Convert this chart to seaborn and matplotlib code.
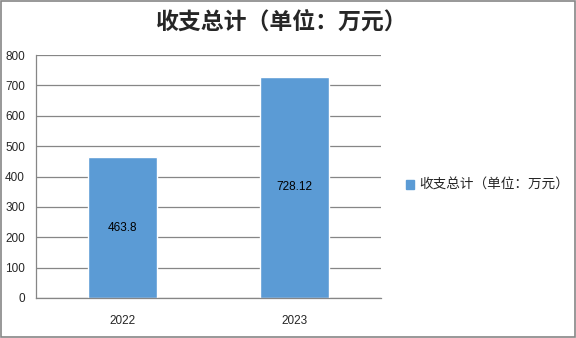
import matplotlib
matplotlib.use("Agg")
import matplotlib.pyplot as plt
import seaborn as sns
import pandas as pd
from matplotlib.patches import Patch

years = ["2022", "2023"]
values = [463.8, 728.12]
labels = ["463.8", "728.12"]
series_name = "收支总计（单位：万元）"
title = "收支总计（单位：万元）"
yticks = [0, 100, 200, 300, 400, 500, 600, 700, 800]

sns.set_style("white")
plt.rcParams['font.family'] = ['Liberation Sans', 'Noto Sans CJK SC', 'DejaVu Sans']

df = pd.DataFrame({"year": years, "value": values})

fig = plt.figure(figsize=(5.76, 3.38), dpi=100)
fig.patch.set_facecolor("white")
ax = fig.add_axes([36/576, 40/338, (381-36)/576, (298-55)/338])

color = "#5B9BD5"
sns.barplot(data=df, x="year", y="value", color=color, width=0.4, ax=ax, saturation=1)

ax.set_ylim(0, 800)
ax.set_xlim(-0.5, 1.5)
ax.set_yticks(yticks)
ax.set_yticklabels([str(v) for v in yticks], fontsize=8.5)
ax.yaxis.grid(True, color="#868686", linewidth=0.9)
ax.set_axisbelow(True)
ax.set_xlabel("")
ax.set_ylabel("")

ax.set_xticks([-0.5, 0.5, 1.5])
ax.set_xticklabels(["", "", ""])
ax.set_xticks([0, 1], minor=True)
ax.set_xticklabels(years, minor=True, fontsize=8.5)
ax.tick_params(axis="x", which="major", length=5, width=0.9, color="#868686", direction="out")
ax.tick_params(axis="x", which="minor", length=0, pad=12)
ax.tick_params(axis="y", length=5, width=0.9, color="#868686", direction="out", pad=3)

for s in ["top", "right"]:
    ax.spines[s].set_visible(False)
for s in ["left", "bottom"]:
    ax.spines[s].set_color("#868686")
    ax.spines[s].set_linewidth(0.9)

for p, lab in zip(ax.patches, labels):
    ax.text(p.get_x() + p.get_width()/2, p.get_height()/2, lab,
            ha="center", va="center", fontsize=8.5, color="black")

fig.text(282/576, 1 - 22/338, title, ha="center", va="center", fontsize=16.5,
         fontweight="bold", family=['Noto Sans CJK SC', 'DejaVu Sans'])

handles = [Patch(facecolor=color, edgecolor=color)]
fig.legend(handles, [series_name], loc="center left",
           bbox_to_anchor=(394/576, 1 - 185/338), frameon=False,
           prop={"family": ['Noto Sans CJK SC', 'DejaVu Sans'], "size": 9.8},
           handlelength=0.6, handleheight=0.6, handletextpad=0.35)

border = plt.Rectangle((0.001, 0.002), 0.997, 0.995, transform=fig.transFigure,
                       fill=False, edgecolor="#868686", linewidth=1.2)
fig.patches.append(border)

fig.savefig("out.png", dpi=100)
